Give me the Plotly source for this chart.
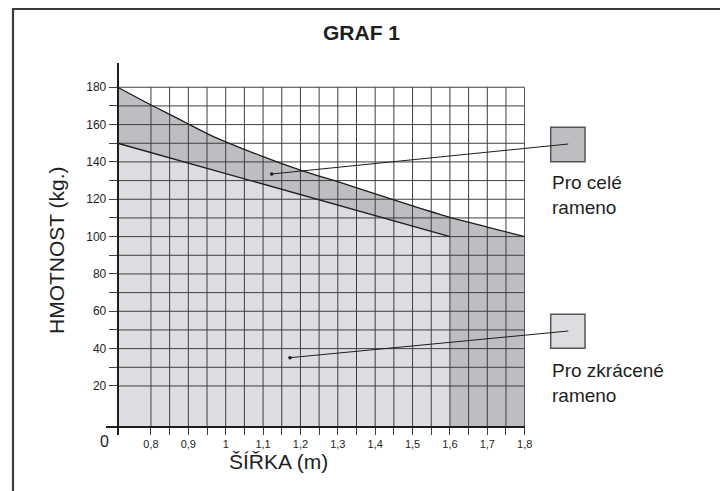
import plotly.graph_objects as go

# ---------------- data ----------------
X_ORIGIN = 0.711          # width where the vertical axis sits
BASE_Y = -1.8             # level of the horizontal axis line
GRID_TOP = 180

UPPER_X = [0.711, 0.8, 0.85, 0.9, 0.95, 1.0, 1.05, 1.1, 1.15, 1.2, 1.25, 1.3,
           1.4, 1.5, 1.6, 1.7, 1.8]
UPPER_Y = [180, 170.5, 165.5, 160.3, 155.2, 150.7, 146.7, 142.8, 139.1, 135.6,
           132.4, 129.4, 122.9, 116.4, 110.3, 105.1, 100]
LOWER_X = [0.711, 1.6]
LOWER_Y = [150, 100]

X_TICKS = [0.8, 0.85, 0.9, 0.95, 1.0, 1.05, 1.1, 1.15, 1.2, 1.25, 1.3, 1.35,
           1.4, 1.45, 1.5, 1.55, 1.6, 1.65, 1.7, 1.75, 1.8]
X_LABELS = ["0,8", "", "0,9", "", "1", "", "1,1", "", "1,2", "", "1,3", "",
            "1,4", "", "1,5", "", "1,6", "", "1,7", "", "1,8"]
Y_TICKS = [20, 30, 40, 50, 60, 70, 80, 90, 100, 110, 120, 130, 140, 150, 160,
           170, 180]
Y_LABELS = ["20", "", "40", "", "60", "", "80", "", "100", "", "120", "",
            "140", "", "160", "", "180"]

TITLE = "GRAF 1"
X_TITLE = "ŠÍŘKA (m)"
Y_TITLE = "HMOTNOST (kg.)"
LEG_FULL = "Pro celé<br>rameno"
LEG_SHORT = "Pro zkrácené<br>rameno"

DARK = "#bdbec1"
LIGHT = "#dcdde0"
INK = "#1e1e1e"
GRID = "#3f3f3f"

# ---------------- geometry (pixels) ----------------
W, H = 720, 491
L, R, T, B = 106, 525, 63, 435
PX_PER_X = 373.7
PX_PER_Y = 1.867
X_MIN = X_ORIGIN - (117.7 - L) / PX_PER_X
X_MAX = X_MIN + (R - L) / PX_PER_X
Y_ZERO_PX = 423.3
Y_MIN = -(B - Y_ZERO_PX) / PX_PER_Y
Y_MAX = Y_MIN + (B - T) / PX_PER_Y


def px(x):
    return (x - L) / (R - L)


def py(y):
    return (B - y) / (B - T)


# ---------------- polygons built from the data ----------------
x_end = UPPER_X[-1]
light_x = LOWER_X + [LOWER_X[-1], LOWER_X[0], LOWER_X[0]]
light_y = LOWER_Y + [BASE_Y, BASE_Y, LOWER_Y[0]]

dark_x = UPPER_X + [x_end, LOWER_X[-1]] + LOWER_X[::-1] + [UPPER_X[0]]
dark_y = UPPER_Y + [BASE_Y, BASE_Y] + LOWER_Y[::-1] + [UPPER_Y[0]]

grid_x, grid_y = [], []
for xv in X_TICKS:
    grid_x += [xv, xv, None]
    grid_y += [BASE_Y, GRID_TOP, None]
for yv in Y_TICKS:
    grid_x += [X_ORIGIN, x_end, None]
    grid_y += [yv, yv, None]

fig = go.Figure()
fig.add_trace(go.Scatter(x=dark_x, y=dark_y, mode="lines", fill="toself",
                         fillcolor=DARK, line=dict(width=0), hoverinfo="skip",
                         showlegend=False))
fig.add_trace(go.Scatter(x=light_x, y=light_y, mode="lines", fill="toself",
                         fillcolor=LIGHT, line=dict(width=0), hoverinfo="skip",
                         showlegend=False))
fig.add_trace(go.Scatter(x=grid_x, y=grid_y, mode="lines",
                         line=dict(color=GRID, width=1), hoverinfo="skip",
                         showlegend=False))
fig.add_trace(go.Scatter(x=UPPER_X, y=UPPER_Y, mode="lines",
                         line=dict(color=INK, width=1.3, shape="spline",
                                   smoothing=0.6),
                         hoverinfo="skip", showlegend=False))
fig.add_trace(go.Scatter(x=LOWER_X, y=LOWER_Y, mode="lines",
                         line=dict(color=INK, width=1.3), hoverinfo="skip",
                         showlegend=False))

FONT = "Liberation Sans, Arial, sans-serif"

fig.update_layout(
    width=W, height=H,
    margin=dict(l=L, r=W - R, t=T, b=H - B, autoexpand=False),
    paper_bgcolor="white", plot_bgcolor="rgba(0,0,0,0)",
    showlegend=False,
    xaxis=dict(range=[X_MIN, X_MAX], showgrid=False, zeroline=False,
               showline=True, linecolor=INK, linewidth=2, automargin=False,
               anchor="free", position=(B - (Y_ZERO_PX - BASE_Y * PX_PER_Y)) / (B - T),
               tickmode="array", tickvals=X_TICKS, ticktext=X_LABELS,
               ticks="outside", ticklen=7, tickwidth=1, tickcolor=GRID,
               tickfont=dict(family=FONT, size=11, color=INK),
               ticklabelstandoff=0),
    yaxis=dict(range=[Y_MIN, Y_MAX], showgrid=False, zeroline=False,
               showline=True, linecolor=INK, linewidth=2, automargin=False,
               anchor="free", position=px(117.7),
               tickmode="array", tickvals=Y_TICKS, ticktext=Y_LABELS,
               ticks="outside", ticklen=8, tickwidth=1, tickcolor=GRID,
               tickfont=dict(family=FONT, size=12, color=INK)),
)

shapes = []
# frame lines (top and left)
shapes.append(dict(type="line", xref="paper", yref="paper", x0=px(12), x1=px(722),
                   y0=py(9), y1=py(9), line=dict(color="#3c3c3c", width=2.2)))
shapes.append(dict(type="line", xref="paper", yref="paper", x0=px(13), x1=px(13),
                   y0=py(8), y1=py(493), line=dict(color="#3c3c3c", width=2.2)))
# legend boxes
shapes.append(dict(type="rect", xref="paper", yref="paper", x0=px(550.7), x1=px(585),
                   y0=py(161.7), y1=py(127.3), fillcolor=DARK,
                   line=dict(color="#555555", width=1.5)))
shapes.append(dict(type="rect", xref="paper", yref="paper", x0=px(550.7), x1=px(585),
                   y0=py(348.3), y1=py(314.3), fillcolor=LIGHT,
                   line=dict(color="#555555", width=1.5)))
# leader lines
shapes.append(dict(type="line", xref="paper", yref="paper", x0=px(568.3), y0=py(144),
                   x1=px(271.7), y1=py(174), line=dict(color=INK, width=1)))
shapes.append(dict(type="line", xref="paper", yref="paper", x0=px(568.3), y0=py(331),
                   x1=px(290), y1=py(357.7), line=dict(color=INK, width=1)))
for (cx, cy) in [(271.7, 174), (290, 357.7)]:
    shapes.append(dict(type="circle", xref="paper", yref="paper",
                       x0=px(cx - 1.8), x1=px(cx + 1.8), y0=py(cy + 1.8), y1=py(cy - 1.8),
                       fillcolor=INK, line=dict(width=0)))
fig.update_layout(shapes=shapes)

ann = []
ann.append(dict(text=f"<b>{TITLE}</b>", xref="paper", yref="paper", x=px(361), y=py(32),
                xanchor="center", yanchor="middle", showarrow=False,
                font=dict(family=FONT, size=21, color=INK)))
ann.append(dict(text=X_TITLE, xref="paper", yref="paper", x=px(278), y=py(461),
                xanchor="center", yanchor="middle", showarrow=False,
                font=dict(family=FONT, size=21, color=INK)))
ann.append(dict(text=Y_TITLE, xref="paper", yref="paper", x=px(56), y=py(250),
                xanchor="center", yanchor="middle", showarrow=False, textangle=-90,
                font=dict(family=FONT, size=21, color=INK)))
ann.append(dict(text="0", xref="paper", yref="paper", x=px(104.5), y=py(441),
                xanchor="center", yanchor="middle", showarrow=False,
                font=dict(family=FONT, size=16, color=INK)))
ann.append(dict(text=LEG_FULL, xref="paper", yref="paper", x=px(550), y=py(170),
                xanchor="left", yanchor="top", align="left", showarrow=False,
                font=dict(family=FONT, size=19, color=INK)))
ann.append(dict(text=LEG_SHORT, xref="paper", yref="paper", x=px(550), y=py(358),
                xanchor="left", yanchor="top", align="left", showarrow=False,
                font=dict(family=FONT, size=19, color=INK)))
fig.update_layout(annotations=ann)

fig.write_html(
    "out.html",
    config={"displayModeBar": False, "staticPlot": True},
    post_script="document.body.style.margin='0';document.body.style.overflow='hidden';",
)
